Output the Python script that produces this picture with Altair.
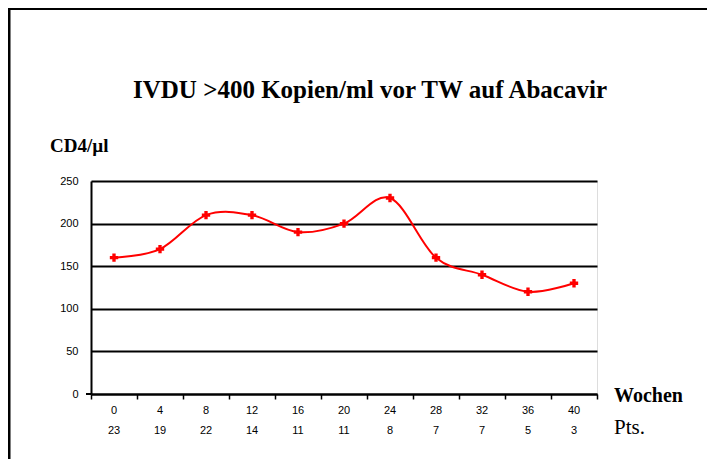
import altair as alt
import pandas as pd

weeks = [0, 4, 8, 12, 16, 20, 24, 28, 32, 36, 40]
cd4 = [160, 170, 210, 210, 190, 200, 230, 160, 140, 120, 130]
pts = ["23", "19", "22", "14", "11", "11", "8", "7", "7", "5", "3"]
y_ticks = [0, 50, 100, 150, 200, 250]
x_tick_positions = [-2, 2, 6, 10, 14, 18, 22, 26, 30, 34, 38, 42]

title_text = "IVDU >400 Kopien/ml vor TW auf Abacavir"
y_title = "CD4/µl"
x_title = "Wochen"
pts_title = "Pts."

df = pd.DataFrame({"week": weeks, "cd4": cd4, "pts": pts, "wlabel": [str(w) for w in weeks]})

W, H = 506, 213

xscale = alt.Scale(domain=[-2, 42], nice=False, zero=False)
yscale = alt.Scale(domain=[0, 250], nice=False)

base = alt.Chart(df)

line = base.mark_line(color="#ff0000", strokeWidth=2, interpolate="cardinal").encode(
    x=alt.X("week:Q", scale=xscale,
            axis=alt.Axis(values=x_tick_positions, labels=False, title=None, grid=False,
                          domainColor="black", domainWidth=2, tickColor="black",
                          tickWidth=1.5, tickSize=5)),
    y=alt.Y("cd4:Q", scale=yscale,
            axis=alt.Axis(values=y_ticks, title=None, grid=True, gridColor="black",
                          gridWidth=2, gridOpacity=1, domainColor="black", domainWidth=2,
                          ticks=False, labelPadding=13, labelFont="Liberation Sans",
                          labelFontSize=11, labelColor="black")),
)

points = base.mark_point(shape="cross", filled=True, color="#ff0000", size=70, opacity=1).encode(
    x=alt.X("week:Q", scale=xscale),
    y=alt.Y("cd4:Q", scale=yscale),
)

wk_labels = base.mark_text(font="Liberation Sans", fontSize=11, color="black",
                           align="center", baseline="middle").encode(
    x=alt.X("week:Q", scale=xscale), y=alt.value(H + 17), text="wlabel:N")

pt_labels = base.mark_text(font="Liberation Sans", fontSize=11, color="black",
                           align="center", baseline="middle").encode(
    x=alt.X("week:Q", scale=xscale), y=alt.value(H + 37), text="pts:N")

def label(txt, x, y, size, bold, align="left"):
    return alt.Chart(pd.DataFrame({"t": [txt]})).mark_text(
        font="Liberation Serif", fontSize=size, fontWeight="bold" if bold else "normal",
        color="black", align=align, baseline="middle").encode(
        text="t:N", x=alt.value(x), y=alt.value(y))

title = label(title_text, 279, -91, 25, True, align="center")
ylab = label(y_title, -41, -35, 19, True)
xlab = label(x_title, 523, 215, 20, True)
ptslab = label(pts_title, 523, 247, 21, False)

axis_ext = alt.Chart(pd.DataFrame({"a": [0]})).mark_rule(color="black", strokeWidth=2).encode(
    x=alt.value(-5), x2=alt.value(0), y=alt.value(H))

frame_left = alt.Chart(pd.DataFrame({"a": [0]})).mark_rule(color="black", strokeWidth=3).encode(
    x=alt.value(-82), y=alt.value(-172.5), y2=alt.value(290))
frame_top = alt.Chart(pd.DataFrame({"a": [0]})).mark_rule(color="black", strokeWidth=3).encode(
    y=alt.value(-172.5), x=alt.value(-83.5), x2=alt.value(640))

chart = alt.layer(
    line, points, wk_labels, pt_labels, title, ylab, xlab, ptslab, axis_ext, frame_left, frame_top
).properties(
    width=W, height=H,
    autosize=alt.AutoSizeParams(type="none"),
    padding={"left": 83, "top": 173, "right": 110, "bottom": 65},
).configure_view(stroke=None).configure(background="white")

chart.save("out.html", embed_options={"renderer": "svg", "actions": False})
